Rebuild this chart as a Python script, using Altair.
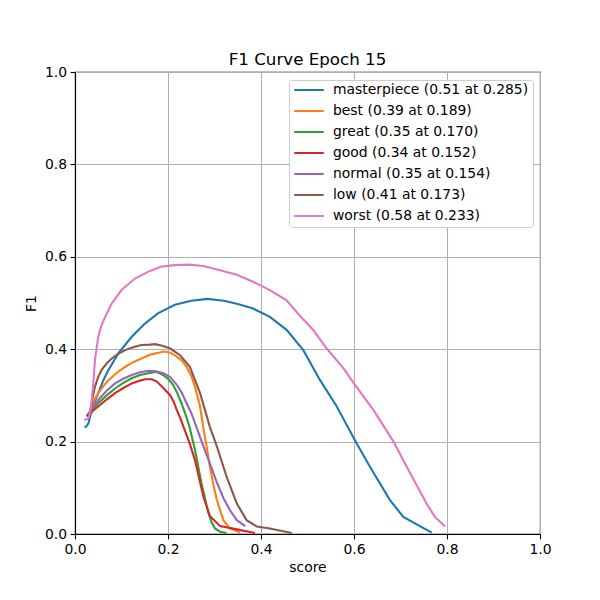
import altair as alt
import pandas as pd

labels = ["masterpiece (0.51 at 0.285)", "best (0.39 at 0.189)", "great (0.35 at 0.170)",
          "good (0.34 at 0.152)", "normal (0.35 at 0.154)", "low (0.41 at 0.173)",
          "worst (0.58 at 0.233)"]
colors = ["#1f77b4", "#ff7f0e", "#2ca02c", "#d62728", "#9467bd", "#8c564b", "#e377c2"]

masterpiece_x = [0.020, 0.024, 0.029, 0.036, 0.043, 0.050, 0.061, 0.072, 0.093, 0.122, 0.151, 0.179,
                 0.215, 0.250, 0.285, 0.320, 0.350, 0.383, 0.419, 0.455, 0.491, 0.527, 0.563, 0.602,
                 0.634, 0.677, 0.706, 0.767]
masterpiece_y = [0.232, 0.232, 0.240, 0.268, 0.288, 0.305, 0.333, 0.355, 0.391, 0.427, 0.456, 0.478,
                 0.496, 0.505, 0.509, 0.505, 0.498, 0.488, 0.470, 0.442, 0.398, 0.333, 0.276, 0.203,
                 0.146, 0.074, 0.037, 0.003]

best_x = [0.025, 0.032, 0.040, 0.050, 0.061, 0.072, 0.090, 0.108, 0.125, 0.143, 0.161, 0.179, 0.190,
          0.204, 0.219, 0.230, 0.240, 0.250, 0.258, 0.269, 0.276, 0.283, 0.290, 0.298, 0.305, 0.319,
          0.333, 0.355]
best_y = [0.255, 0.265, 0.287, 0.305, 0.320, 0.333, 0.349, 0.362, 0.372, 0.380, 0.388, 0.392, 0.395,
          0.393, 0.384, 0.375, 0.362, 0.342, 0.319, 0.276, 0.229, 0.190, 0.146, 0.105, 0.074, 0.030,
          0.012, 0.003]

great_x = [0.025, 0.032, 0.040, 0.050, 0.068, 0.086, 0.104, 0.122, 0.140, 0.158, 0.175, 0.190, 0.200,
           0.211, 0.220, 0.229, 0.238, 0.247, 0.258, 0.272, 0.287, 0.294, 0.301, 0.312, 0.326]
great_y = [0.255, 0.262, 0.272, 0.283, 0.300, 0.315, 0.327, 0.337, 0.344, 0.348, 0.351, 0.344, 0.336,
           0.323, 0.305, 0.283, 0.258, 0.229, 0.182, 0.110, 0.045, 0.025, 0.012, 0.005, 0.002]

good_x = [0.025, 0.032, 0.040, 0.050, 0.068, 0.086, 0.104, 0.122, 0.140, 0.151, 0.165, 0.176, 0.190,
          0.204, 0.212, 0.219, 0.226, 0.236, 0.247, 0.258, 0.276, 0.290, 0.312, 0.348, 0.387]
good_y = [0.255, 0.260, 0.268, 0.276, 0.291, 0.305, 0.316, 0.326, 0.332, 0.335, 0.335, 0.330, 0.316,
          0.301, 0.287, 0.268, 0.252, 0.225, 0.195, 0.160, 0.081, 0.039, 0.017, 0.010, 0.002]

normal_x = [0.025, 0.032, 0.040, 0.050, 0.068, 0.086, 0.104, 0.122, 0.140, 0.158, 0.175, 0.190, 0.204,
            0.219, 0.230, 0.240, 0.250, 0.262, 0.276, 0.290, 0.305, 0.319, 0.333, 0.348, 0.366]
normal_y = [0.255, 0.263, 0.276, 0.290, 0.310, 0.326, 0.336, 0.344, 0.350, 0.353, 0.352, 0.348, 0.340,
            0.323, 0.305, 0.283, 0.262, 0.229, 0.190, 0.153, 0.112, 0.078, 0.052, 0.030, 0.017]

low_x = [0.025, 0.032, 0.038, 0.043, 0.050, 0.057, 0.068, 0.079, 0.093, 0.108, 0.125, 0.143, 0.161,
         0.172, 0.186, 0.204, 0.226, 0.247, 0.269, 0.290, 0.305, 0.326, 0.348, 0.369, 0.391, 0.419,
         0.466]
low_y = [0.255, 0.261, 0.295, 0.319, 0.340, 0.355, 0.369, 0.380, 0.390, 0.398, 0.404, 0.409, 0.410,
         0.411, 0.408, 0.402, 0.387, 0.362, 0.305, 0.232, 0.190, 0.124, 0.066, 0.030, 0.016, 0.012,
         0.002]

worst_x = [0.020, 0.029, 0.033, 0.036, 0.040, 0.043, 0.050, 0.057, 0.065, 0.079, 0.100, 0.129, 0.158,
           0.186, 0.215, 0.245, 0.276, 0.312, 0.348, 0.383, 0.419, 0.455, 0.484, 0.512, 0.541, 0.577,
           0.602, 0.642, 0.685, 0.713, 0.756, 0.774, 0.796]
worst_y = [0.247, 0.250, 0.265, 0.290, 0.335, 0.377, 0.427, 0.452, 0.470, 0.499, 0.528, 0.553, 0.568,
           0.579, 0.582, 0.583, 0.580, 0.571, 0.561, 0.546, 0.528, 0.506, 0.472, 0.442, 0.402, 0.359,
           0.323, 0.268, 0.200, 0.146, 0.066, 0.037, 0.016]

series = [(masterpiece_x, masterpiece_y), (best_x, best_y), (great_x, great_y),
          (good_x, good_y), (normal_x, normal_y), (low_x, low_y), (worst_x, worst_y)]

rows = []
for k, (xs, ys) in enumerate(series):
    for i, (a, b) in enumerate(zip(xs, ys)):
        rows.append({"series": labels[k], "s": k, "idx": i, "score": a, "F1": b})
df = pd.DataFrame(rows)

ticks = [0.0, 0.2, 0.4, 0.6, 0.8, 1.0]
FONT = "DejaVu Sans"

chart = alt.Chart(df).mark_line(strokeWidth=2.1).encode(
    x=alt.X("score:Q", scale=alt.Scale(domain=[0, 1], nice=False, zero=False),
            axis=alt.Axis(values=ticks, format=".1f", title="score")),
    y=alt.Y("F1:Q", scale=alt.Scale(domain=[0, 1], nice=False, zero=False),
            axis=alt.Axis(values=ticks, format=".1f", title="F1")),
    color=alt.Color("series:N", scale=alt.Scale(domain=labels, range=colors),
                    legend=alt.Legend(title=None, orient="none", legendX=214, legendY=8,
                                      symbolType="stroke", symbolStrokeWidth=2.1, symbolSize=870,
                                      labelFontSize=13.9, labelFont=FONT, labelColor="black",
                                      fillColor="white", strokeColor="#cccccc", cornerRadius=3,
                                      padding=4, clipHeight=12, rowPadding=9.1 - 2.1, labelOffset=8,
                                      labelLimit=400)),
    order=alt.Order("idx:Q"),
).properties(
    width=465, height=462,
    title=alt.TitleParams("F1 Curve Epoch 15", fontSize=16.7, font=FONT, fontWeight="normal",
                          color="black", offset=-4),
    padding={"left": 67, "top": 64, "right": 52, "bottom": 58},
    autosize=alt.AutoSizeParams(type="none"),
).configure_view(
    stroke="black", strokeWidth=1.1
).configure_axis(
    grid=True, gridColor="#b0b0b0", gridWidth=1.1, domainColor="black", domainWidth=1.1,
    tickColor="black", tickSize=4.9, tickWidth=1.1, labelFont=FONT, labelFontSize=13.9,
    labelColor="black", labelPadding=3.5, titleFont=FONT, titleFontSize=13.9,
    titleFontWeight="normal", titleColor="black", labelFlush=False
).configure_axisX(titlePadding=4).configure_axisY(titlePadding=6)

chart.save("out.html", embed_options={"renderer": "svg", "actions": False})
